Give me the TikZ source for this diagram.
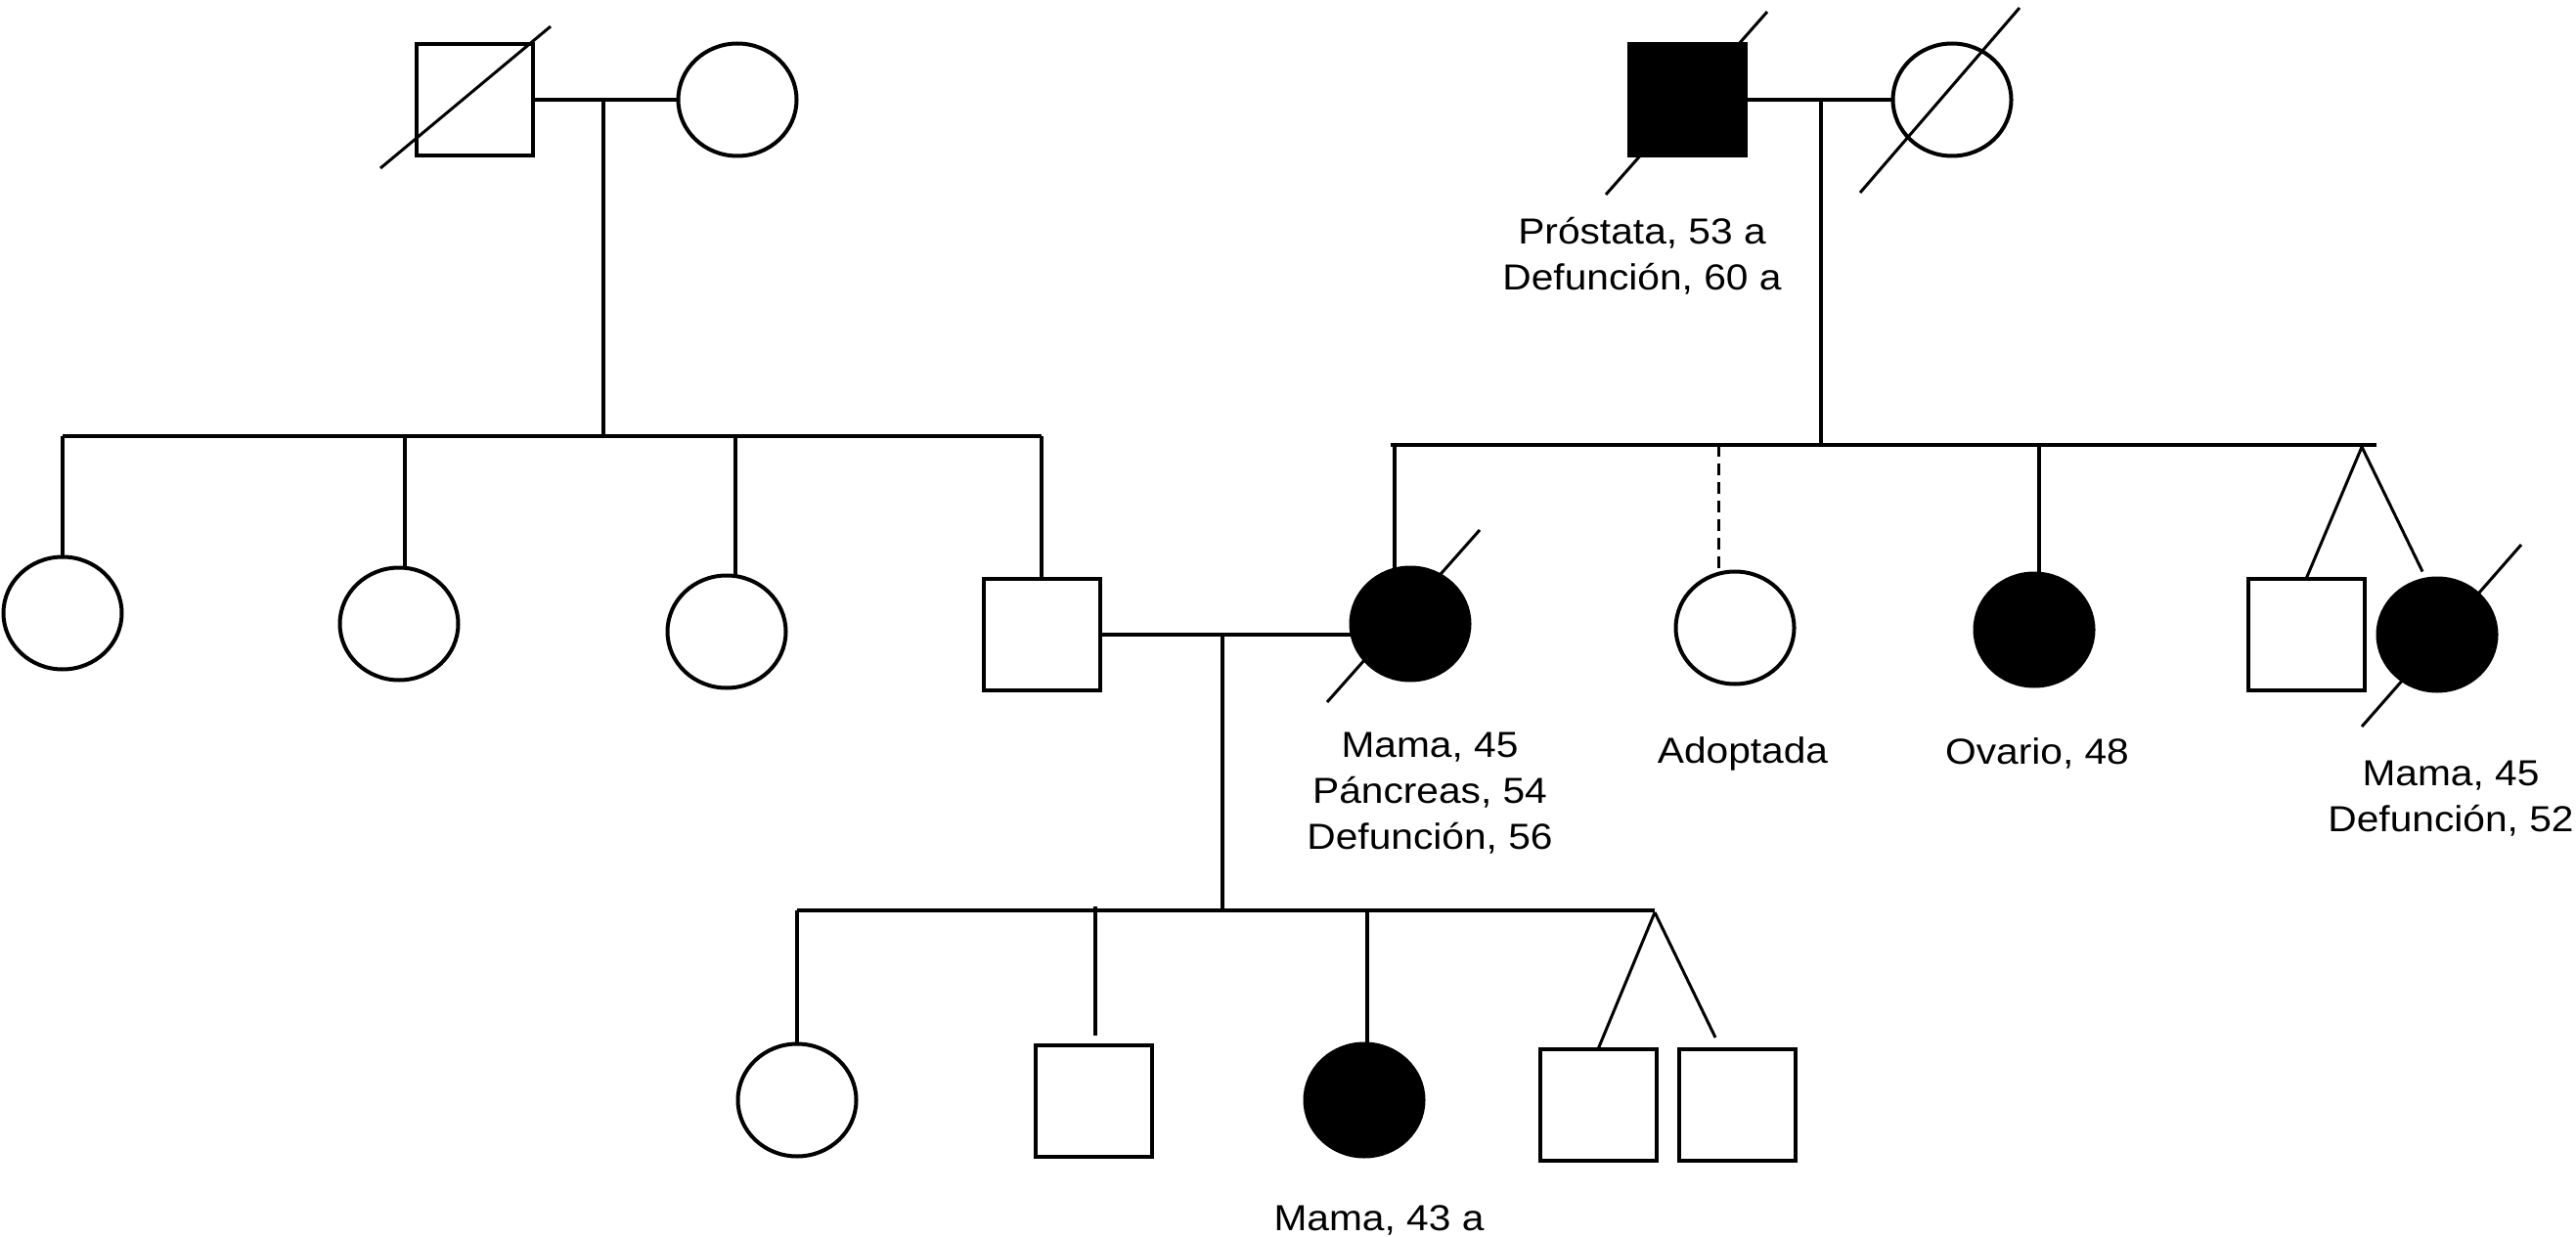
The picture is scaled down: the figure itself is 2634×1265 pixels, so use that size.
\documentclass[tikz,border=0pt]{standalone}
\usepackage{fontspec}
\newfontfamily\labfont[FakeStretch=1.1]{Liberation Sans}
\usetikzlibrary{shapes.geometric}
\begin{document}
\begin{tikzpicture}[x=1pt,y=-1pt,
  ln/.style={line width=4pt},
  sib/.style={line width=4.5pt},
  thinln/.style={line width=3pt},
  male/.style={draw,rectangle,line width=4pt,minimum width=119pt,minimum height=114pt,inner sep=0pt,outer sep=0pt},
  female/.style={draw,ellipse,line width=4pt,minimum width=121pt,minimum height=115pt,inner sep=0pt,outer sep=0pt},
  aff/.style={fill=black},
  lab/.style={font=\labfont\fontsize{37pt}{47pt}\selectfont,align=center,inner sep=0pt,anchor=base}]
\fill[white] (0,0) rectangle (2634,1265);
\useasboundingbox (0,0) rectangle (2634,1265);

% generation I
\node[male] (gp1) at (485,102) {};
\node[female] (gm1) at (754,102) {};
\node[male,aff] (gp2) at (1725,102) {};
\node[female] (gm2) at (1996,102) {};

% generation II
\node[female] (a1) at (64,627) {};
\node[female] (a2) at (408,638) {};
\node[female] (a3) at (743,646) {};
\node[male] (fa) at (1065,649) {};
\node[female,aff] (mo) at (1442,638) {};
\node[female] (ad) at (1774,642) {};
\node[female,aff] (ov) at (2080,644) {};
\node[male] (tw1) at (2358,649) {};
\node[female,aff] (tw2) at (2492,649) {};

% generation III
\node[female] (c1) at (815,1125) {};
\node[male] (c2) at (1118,1126) {};
\node[female,aff] (c3) at (1395,1125) {};
\node[male] (t1) at (1634,1130) {};
\node[male] (t2) at (1776,1130) {};

% deceased slashes
\draw[thinln] ([shift={(-96,70)}]gp1.center) -- ([shift={(78,-75)}]gp1.center);
\draw[thinln] ([shift={(-83,97)}]gp2.center) -- ([shift={(82,-90)}]gp2.center);
\draw[thinln] ([shift={(-94,95)}]gm2.center) -- ([shift={(69,-94)}]gm2.center);
\draw[thinln] ([shift={(-85,80)}]mo.center) -- ([shift={(71,-96)}]mo.center);
\draw[thinln] ([shift={(-77,94)}]tw2.center) -- ([shift={(86,-92)}]tw2.center);

% left family of generation I
\coordinate (m1) at (617,102);
\coordinate (s1) at (617,446);
\coordinate (s1l) at (64,446);
\coordinate (s1r) at (1065,446);
\draw[ln] (gp1.east) -- (gm1.west);
\draw[ln] (m1) -- (s1);
\draw[sib] (s1l) -- (s1r);
\draw[ln] (s1l) -- (a1.north);
\coordinate (a2t) at ([xshift=6pt]a2.north);
\draw[ln] (a2t |- s1l) -- (a2t);
\coordinate (a3t) at ([xshift=9pt]a3.north);
\draw[ln] (a3t |- s1l) -- (a3t);
\draw[ln] (s1r) -- (fa.north);

% right family of generation I
\coordinate (m2) at (1862,102);
\coordinate (s2) at (1862,455);
\coordinate (s2l) at (1422,455);
\coordinate (s2r) at (2430,455);
\coordinate (tw) at (2415,457);
\draw[ln] (gp2.east) -- (gm2.west);
\draw[ln] (m2) -- (s2);
\draw[sib] (s2l) -- (s2r);
\coordinate (mot) at ([xshift=-16pt]mo.north);
\draw[ln] (mot |- s2l) -- (mot);
\coordinate (adt) at ([xshift=-17pt]ad.north);
\draw[ln,line width=3pt,dash pattern=on 12pt off 7pt] (adt |- s2l) -- (adt);
\coordinate (ovt) at ([xshift=5pt]ov.north);
\draw[ln] (ovt |- s2l) -- (ovt);
\draw[thinln] (tw) -- (tw1.north);
\draw[thinln] (tw) -- ([shift={(-15,-7)}]tw2.north);

% generation II couple and children
\coordinate (m3) at (1250,649);
\coordinate (s3) at (1250,931);
\coordinate (s3l) at (815,931);
\coordinate (s3r) at (1692,931);
\coordinate (tt) at (1692,933);
\draw[ln] (fa.east) -- (fa.east -| mo.west);
\draw[ln] (m3) -- (s3);
\draw[sib] (s3l) -- (s3r);
\draw[ln] (s3l) -- (c1.north);
\coordinate (c2t) at ([shift={(2,-10)}]c2.north);
\draw[ln] ([yshift=4pt]c2t |- s3l) -- (c2t);
\coordinate (c3t) at ([xshift=3pt]c3.north);
\draw[ln] (c3t |- s3l) -- (c3t);
\draw[thinln] (tt) -- (t1.north);
\draw[thinln] (tt) -- ([shift={(-22,-12)}]t2.north);

% labels (anchor = baseline of the last line)
\node[lab] (lgp2) at (1679,297) {Próstata, 53 a\\Defunción, 60 a};
\node[lab] (lmo) at (1462,868) {Mama, 45\\Páncreas, 54\\Defunción, 56};
\node[lab] (lad) at (1782,780) {Adoptada};
\node[lab] (lov) at (2083,781) {Ovario, 48};
\node[lab] (ltw2) at (2506,850) {Mama, 45\\Defunción, 52};
\node[lab] (lc3) at (1410,1258) {Mama, 43 a};
\end{tikzpicture}
\end{document}
